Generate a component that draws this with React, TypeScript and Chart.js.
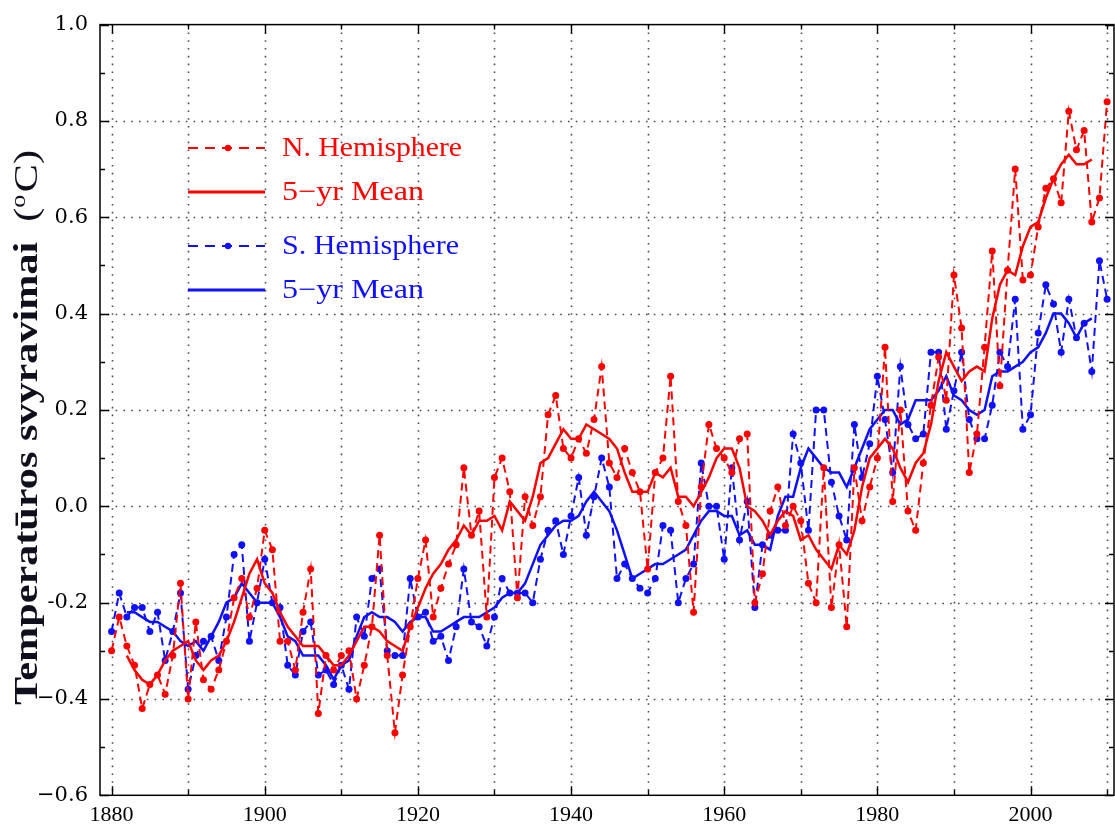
import React, { useEffect, useRef } from "react";
import { Chart, registerables } from "chart.js";

Chart.register(...registerables);

// ---------------- DATA ----------------
const years = [
  1880, 1881, 1882, 1883, 1884, 1885, 1886, 1887, 1888, 1889,
  1890, 1891, 1892, 1893, 1894, 1895, 1896, 1897, 1898, 1899,
  1900, 1901, 1902, 1903, 1904, 1905, 1906, 1907, 1908, 1909,
  1910, 1911, 1912, 1913, 1914, 1915, 1916, 1917, 1918, 1919,
  1920, 1921, 1922, 1923, 1924, 1925, 1926, 1927, 1928, 1929,
  1930, 1931, 1932, 1933, 1934, 1935, 1936, 1937, 1938, 1939,
  1940, 1941, 1942, 1943, 1944, 1945, 1946, 1947, 1948, 1949,
  1950, 1951, 1952, 1953, 1954, 1955, 1956, 1957, 1958, 1959,
  1960, 1961, 1962, 1963, 1964, 1965, 1966, 1967, 1968, 1969,
  1970, 1971, 1972, 1973, 1974, 1975, 1976, 1977, 1978, 1979,
  1980, 1981, 1982, 1983, 1984, 1985, 1986, 1987, 1988, 1989,
  1990, 1991, 1992, 1993, 1994, 1995, 1996, 1997, 1998, 1999,
  2000, 2001, 2002, 2003, 2004, 2005, 2006, 2007, 2008, 2009,
  2010,
];

const nhAnnual = [
  -0.30, -0.23, -0.29, -0.33, -0.42, -0.37, -0.35, -0.39, -0.31, -0.16,
  -0.40, -0.24, -0.36, -0.38, -0.34, -0.28, -0.19, -0.15, -0.23, -0.17,
  -0.05, -0.09, -0.28, -0.28, -0.34, -0.22, -0.13, -0.43, -0.31, -0.34,
  -0.31, -0.30, -0.40, -0.33, -0.25, -0.06, -0.31, -0.47, -0.35, -0.25,
  -0.15, -0.07, -0.23, -0.17, -0.12, -0.08, 0.08, -0.06, -0.01, -0.23,
  0.06, 0.10, 0.03, -0.19, 0.02, -0.04, 0.02, 0.19, 0.23, 0.12,
  0.10, 0.14, 0.11, 0.18, 0.29, 0.09, 0.06, 0.12, 0.07, 0.03,
  -0.13, 0.07, 0.10, 0.27, 0.01, -0.04, -0.22, 0.04, 0.17, 0.12,
  0.10, 0.07, 0.14, 0.15, -0.20, -0.14, -0.01, 0.04, -0.04, 0.00,
  -0.03, -0.16, -0.20, 0.08, -0.21, -0.08, -0.25, 0.08, -0.03, 0.04,
  0.10, 0.33, 0.01, 0.20, -0.01, -0.05, 0.09, 0.21, 0.31, 0.22,
  0.48, 0.37, 0.07, 0.15, 0.33, 0.53, 0.25, 0.49, 0.70, 0.47,
  0.48, 0.58, 0.66, 0.68, 0.63, 0.82, 0.74, 0.78, 0.59, 0.64,
  0.84,
];

const shAnnual = [
  -0.26, -0.18, -0.23, -0.21, -0.21, -0.26, -0.22, -0.32, -0.26, -0.18,
  -0.38, -0.31, -0.28, -0.27, -0.32, -0.23, -0.10, -0.08, -0.28, -0.20,
  -0.11, -0.20, -0.21, -0.33, -0.35, -0.26, -0.24, -0.35, -0.34, -0.37,
  -0.33, -0.38, -0.23, -0.27, -0.15, -0.13, -0.30, -0.31, -0.31, -0.15,
  -0.23, -0.22, -0.28, -0.27, -0.32, -0.25, -0.13, -0.24, -0.25, -0.29,
  -0.23, -0.15, -0.18, -0.18, -0.18, -0.20, -0.11, -0.05, -0.03, -0.10,
  -0.02, 0.06, -0.06, 0.02, 0.10, 0.04, -0.15, -0.12, -0.15, -0.17,
  -0.18, -0.15, -0.04, -0.05, -0.20, -0.15, -0.12, 0.09, 0.00, 0.00,
  -0.11, 0.08, -0.07, 0.01, -0.21, -0.08, -0.06, -0.05, -0.05, 0.15,
  0.09, -0.05, 0.20, 0.20, 0.05, -0.02, -0.07, 0.17, 0.06, 0.13,
  0.27, 0.18, 0.07, 0.29, 0.17, 0.14, 0.15, 0.32, 0.32, 0.16,
  0.24, 0.32, 0.18, 0.14, 0.14, 0.21, 0.32, 0.29, 0.43, 0.16,
  0.19, 0.36, 0.46, 0.42, 0.32, 0.43, 0.35, 0.38, 0.28, 0.51,
  0.43,
];

// 5-yr means, 1882 .. 2008
const meanYears = years.slice(2, 129);

const nhMean = [
  -0.31, -0.34, -0.36, -0.37, -0.35, -0.32, -0.30, -0.29,
  -0.28, -0.32, -0.34, -0.32, -0.31, -0.28, -0.24, -0.19, -0.14, -0.11,
  -0.16, -0.18, -0.22, -0.25, -0.27, -0.29, -0.29, -0.29, -0.31, -0.33,
  -0.33, -0.31, -0.28, -0.25, -0.25, -0.26, -0.28, -0.29, -0.30, -0.25,
  -0.21, -0.17, -0.14, -0.12, -0.09, -0.07, -0.04, -0.06, -0.03, -0.03,
  -0.02, -0.05, 0.01, -0.01, -0.03, 0.02, 0.09, 0.10, 0.13, 0.16,
  0.14, 0.14, 0.17, 0.16, 0.15, 0.14, 0.12, 0.07, 0.03, 0.03,
  0.03, 0.07, 0.06, 0.08, 0.02, 0.02, 0.00, 0.03, 0.06, 0.10,
  0.12, 0.12, 0.08, 0.00, -0.01, -0.03, -0.06, -0.03, -0.01, -0.02,
  -0.07, -0.06, -0.09, -0.11, -0.13, -0.08, -0.10, -0.05, 0.04, 0.10,
  0.12, 0.14, 0.12, 0.08, 0.05, 0.09, 0.11, 0.17, 0.26, 0.32,
  0.29, 0.26, 0.28, 0.29, 0.28, 0.39, 0.46, 0.49, 0.48, 0.54,
  0.58, 0.59, 0.64, 0.68, 0.71, 0.73, 0.71, 0.71, 0.72,
];

const shMean = [
  -0.22, -0.22, -0.23, -0.24, -0.24, -0.25, -0.26, -0.28,
  -0.29, -0.28, -0.30, -0.27, -0.24, -0.20, -0.19, -0.16, -0.18, -0.20,
  -0.20, -0.20, -0.23, -0.27, -0.28, -0.31, -0.31, -0.31, -0.33, -0.36,
  -0.33, -0.32, -0.27, -0.23, -0.22, -0.23, -0.23, -0.24, -0.26, -0.24,
  -0.23, -0.23, -0.26, -0.26, -0.25, -0.24, -0.23, -0.23, -0.23, -0.22,
  -0.21, -0.19, -0.18, -0.18, -0.16, -0.12, -0.08, -0.06, -0.04, -0.03,
  -0.03, -0.02, 0.01, 0.03, 0.01, -0.01, -0.05, -0.10, -0.15, -0.14,
  -0.13, -0.12, -0.12, -0.11, -0.10, -0.09, -0.06, -0.03, -0.01, -0.01,
  -0.02, -0.02, -0.06, -0.05, -0.08, -0.08, -0.09, -0.02, 0.02, 0.02,
  0.08, 0.12, 0.10, 0.08, 0.07, 0.07, 0.04, 0.08, 0.12, 0.16,
  0.18, 0.20, 0.20, 0.17, 0.18, 0.22, 0.22, 0.22, 0.24, 0.27,
  0.23, 0.22, 0.20, 0.19, 0.20, 0.27, 0.28, 0.28, 0.29, 0.30,
  0.32, 0.33, 0.36, 0.40, 0.40, 0.38, 0.35, 0.38, 0.39,
];

const yTickValues = [1.0, 0.8, 0.6, 0.4, 0.2, 0.0, -0.2, -0.4, -0.6];
const yTickLabels = ["1.0", "0.8", "0.6", "0.4", "0.2", "0.0", "-0.2", "\u22120.4", "\u22120.6"];
const xTickValues = [1880, 1900, 1920, 1940, 1960, 1980, 2000];
const xTickLabels = ["1880", "1900", "1920", "1940", "1960", "1980", "2000"];
const xGridYears = [1880, 1890, 1900, 1910, 1920, 1930, 1940, 1950, 1960, 1970, 1980, 1990, 2000, 2010];
const yGridValues = [0.8, 0.6, 0.4, 0.2, 0.0, -0.2, -0.4];
const yMinorValues = [0.9, 0.7, 0.5, 0.3, 0.1, -0.1, -0.3, -0.5];
const legendLabels = ["N. Hemisphere", "5\u2212yr Mean", "S. Hemisphere", "5\u2212yr Mean"];
const yTitleMain = "Temperat\u016bros svyravimai";
const yTitleUnit = ["(", "o", "C)"];

// ---------------- STYLE ----------------
const RED = "#ff0000";
const BLUE = "#1010ff";
const SERIF = "'Liberation Serif', 'Times New Roman', serif";

const decorPlugin = {
  id: "decor",
  beforeDatasetsDraw(chart: any) {
    const { ctx, chartArea: a, scales } = chart;
    const xs = scales.x;
    const ys = scales.y;
    ctx.save();
    ctx.strokeStyle = "#4a4a4a";
    ctx.lineWidth = 1.6;
    ctx.setLineDash([1.6, 6.2]);
    xGridYears.forEach((yr) => {
      const px = Math.round(xs.getPixelForValue(yr)) + 0.5;
      if (px <= a.left + 1 || px >= a.right - 1) return;
      ctx.beginPath();
      ctx.moveTo(px, a.top);
      ctx.lineTo(px, a.bottom);
      ctx.stroke();
    });
    yGridValues.forEach((v) => {
      const py = Math.round(ys.getPixelForValue(v)) + 0.5;
      ctx.beginPath();
      ctx.moveTo(a.left, py);
      ctx.lineTo(a.right, py);
      ctx.stroke();
    });
    ctx.restore();
  },
  afterDraw(chart: any) {
    const { ctx, chartArea: a, scales } = chart;
    const xs = scales.x;
    const ys = scales.y;
    ctx.save();
    // frame
    ctx.setLineDash([]);
    ctx.strokeStyle = "#000";
    ctx.lineWidth = 1.5;
    ctx.strokeRect(a.left, a.top, a.right - a.left, a.bottom - a.top);
    // ticks
    const major = 9;
    const minor = 5;
    ctx.lineWidth = 1.4;
    xGridYears.forEach((yr) => {
      const px = Math.round(xs.getPixelForValue(yr)) + 0.5;
      const len = yr % 20 === 0 ? major : minor;
      ctx.beginPath();
      ctx.moveTo(px, a.bottom);
      ctx.lineTo(px, a.bottom - len);
      ctx.moveTo(px, a.top);
      ctx.lineTo(px, a.top + len);
      ctx.stroke();
    });
    const yAll = yTickValues.map((v) => ({ v, len: major })).concat(yMinorValues.map((v) => ({ v, len: minor })));
    yAll.forEach(({ v, len }) => {
      const py = Math.round(ys.getPixelForValue(v)) + 0.5;
      ctx.beginPath();
      ctx.moveTo(a.left, py);
      ctx.lineTo(a.left + len, py);
      ctx.moveTo(a.right, py);
      ctx.lineTo(a.right - len, py);
      ctx.stroke();
    });

    // legend
    const rows = [
      { label: legendLabels[0], color: RED, dashed: true, y: 148, w: 180 },
      { label: legendLabels[1], color: RED, dashed: false, y: 192, w: 142 },
      { label: legendLabels[2], color: BLUE, dashed: true, y: 246, w: 177 },
      { label: legendLabels[3], color: BLUE, dashed: false, y: 290, w: 142 },
    ];
    rows.forEach((r) => {
      ctx.strokeStyle = r.color;
      ctx.fillStyle = r.color;
      ctx.lineWidth = r.dashed ? 2.2 : 2.8;
      ctx.setLineDash(r.dashed ? [10, 7] : []);
      ctx.beginPath();
      ctx.moveTo(188, r.y);
      ctx.lineTo(265, r.y);
      ctx.stroke();
      ctx.setLineDash([]);
      if (r.dashed) {
        ctx.beginPath();
        ctx.arc(228, r.y, 3.2, 0, Math.PI * 2);
        ctx.fill();
      }
      ctx.font = `27px ${SERIF}`;
      ctx.textBaseline = "alphabetic";
      ctx.textAlign = "left";
      const nat = ctx.measureText(r.label).width;
      ctx.save();
      ctx.translate(282, r.y + 8);
      ctx.scale(r.w / nat, 1);
      ctx.fillText(r.label, 0, 0);
      ctx.restore();
    });

    // y title (rotated)
    ctx.save();
    ctx.fillStyle = "#10101c";
    ctx.textBaseline = "alphabetic";
    ctx.textAlign = "left";
    ctx.translate(37, 705);
    ctx.rotate(-Math.PI / 2);
    const boldFont = `bold 34px ${SERIF}`;
    const regFont = `34px ${SERIF}`;
    const supFont = `21px ${SERIF}`;
    ctx.font = boldFont;
    const w1 = ctx.measureText(yTitleMain).width;
    ctx.font = regFont;
    const w2 = ctx.measureText(yTitleUnit[0]).width;
    const w4 = ctx.measureText(yTitleUnit[2]).width;
    ctx.font = supFont;
    const w3 = ctx.measureText(yTitleUnit[1]).width;
    const gap = 16;
    const total = w1 + gap + w2 + w3 + 2 + w4;
    const sx = 555 / total;
    ctx.scale(sx, 1);
    let cx = 0;
    ctx.font = boldFont;
    ctx.fillText(yTitleMain, cx, 0);
    cx += w1 + gap;
    ctx.font = regFont;
    ctx.fillText(yTitleUnit[0], cx, 0);
    cx += w2;
    ctx.font = supFont;
    ctx.fillText(yTitleUnit[1], cx, -12);
    cx += w3 + 2;
    ctx.font = regFont;
    ctx.fillText(yTitleUnit[2], cx, 0);
    ctx.restore();

    ctx.restore();
  },
};

export default function App() {
  const canvasRef = useRef<HTMLCanvasElement | null>(null);

  useEffect(() => {
    const canvas = canvasRef.current;
    if (!canvas) return;
    const chart = new Chart(canvas, {
      type: "line",
      data: {
        datasets: [
          {
            label: "N. Hemisphere",
            data: years.map((x, i) => ({ x, y: nhAnnual[i] })),
            borderColor: RED,
            backgroundColor: RED,
            borderWidth: 2,
            borderDash: [8, 5],
            pointRadius: 3.5,
            pointBorderWidth: 0,
            pointBackgroundColor: RED,
            tension: 0,
          },
          {
            label: "5-yr Mean N",
            data: meanYears.map((x, i) => ({ x, y: nhMean[i] })),
            borderColor: RED,
            backgroundColor: RED,
            borderWidth: 2.5,
            pointRadius: 0,
            tension: 0,
          },
          {
            label: "S. Hemisphere",
            data: years.map((x, i) => ({ x, y: shAnnual[i] })),
            borderColor: BLUE,
            backgroundColor: BLUE,
            borderWidth: 2,
            borderDash: [8, 5],
            pointRadius: 3.5,
            pointBorderWidth: 0,
            pointBackgroundColor: BLUE,
            tension: 0,
          },
          {
            label: "5-yr Mean S",
            data: meanYears.map((x, i) => ({ x, y: shMean[i] })),
            borderColor: BLUE,
            backgroundColor: BLUE,
            borderWidth: 2.5,
            pointRadius: 0,
            tension: 0,
          },
        ],
      },
      options: {
        responsive: false,
        animation: false,
        devicePixelRatio: 1,
        layout: { padding: { top: 16.6, right: 2, bottom: 0, left: 0 } },
        plugins: { legend: { display: false }, tooltip: { enabled: false }, title: { display: false } },
        scales: {
          x: {
            type: "linear",
            min: 1878.49,
            max: 2010.9,
            grid: { display: false, drawTicks: false, tickLength: 0 },
            border: { display: false },
            afterBuildTicks: (s: any) => {
              s.ticks = xTickValues.map((v) => ({ value: v }));
            },
            afterFit: (s: any) => {
              s.height = 34.7;
            },
            ticks: {
              autoSkip: false,
              maxRotation: 0,
              minRotation: 0,
              padding: 7,
              color: "#000",
              font: { family: SERIF, size: 22 },
              callback: (v: any) => {
                const i = xTickValues.indexOf(Number(v));
                return i >= 0 ? xTickLabels[i] : "";
              },
            },
          },
          y: {
            type: "linear",
            min: -0.6,
            max: 1.0,
            grid: { display: false, drawTicks: false, tickLength: 0 },
            border: { display: false },
            afterBuildTicks: (s: any) => {
              s.ticks = yTickValues.map((v) => ({ value: v }));
            },
            afterFit: (s: any) => {
              s.width = 100;
            },
            ticks: {
              autoSkip: false,
              padding: 12,
              color: "#000",
              font: { family: "'DejaVu Serif', serif", size: 21 },
              callback: (v: any) => {
                const i = yTickValues.findIndex((t) => Math.abs(t - Number(v)) < 1e-6);
                return i >= 0 ? yTickLabels[i] : "";
              },
            },
          },
        },
      },
      plugins: [decorPlugin],
    });
    return () => chart.destroy();
  }, []);

  return (
    <div style={{ position: "fixed", left: 0, top: 0, width: 1118, height: 830, background: "#fff" }}>
      <canvas ref={canvasRef} width={1118} height={830} style={{ display: "block" }} />
    </div>
  );
}
